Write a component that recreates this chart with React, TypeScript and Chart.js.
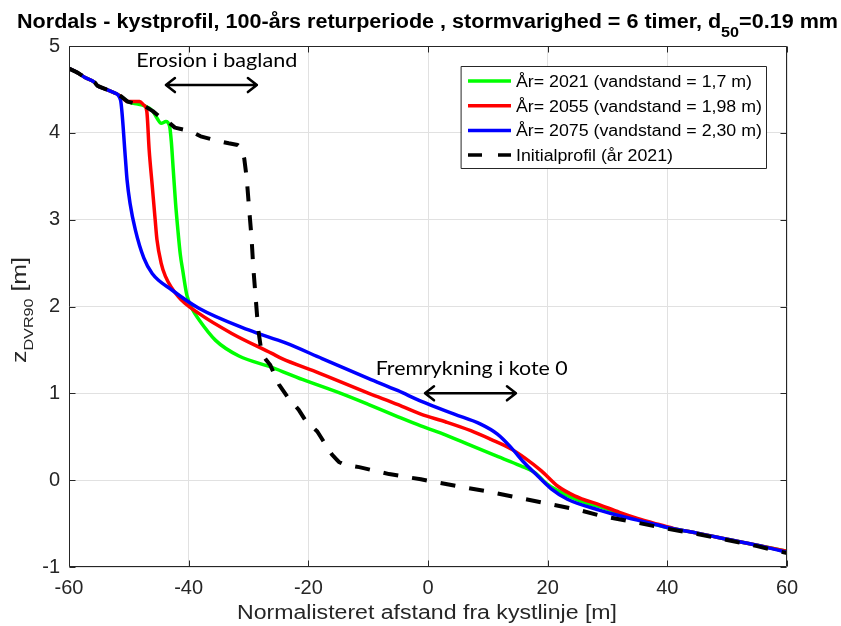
import React, { useEffect, useRef } from "react";
import { Chart, registerables } from "chart.js";

Chart.register(...registerables);

// ---------- data ----------
const xTickValues = [-60, -40, -20, 0, 20, 40, 60];
const yTickValues = [-1, 0, 1, 2, 3, 4, 5];

const seriesLabels = [
  "År= 2021 (vandstand = 1,7 m)",
  "År= 2055 (vandstand = 1,98 m)",
  "År= 2075 (vandstand = 2,30 m)",
  "Initialprofil (år 2021)",
];
const seriesColors = ["#00ff00", "#ff0000", "#0000ff", "#000000"];

const initX = [-60, -58.5, -57.4, -55.7, -55.2, -54.1, -52.4, -51.3, -50.2, -48.5, -47.4, -46.0, -44.6, -43.3, -42.3, -39.7, -38.0, -35.3, -33.3, -31.8, -31.1, -30.7, -30.3, -29.9, -29.5, -29.2, -28.8, -28.4, -27.8, -27.0, -26.4, -24.9, -23.5, -21.6, -20.5, -18.5, -17.4, -16.0, -15.3, -14.9, -14.0, -11.5, -6.5, -1.2, 5, 10, 15, 20, 25, 28.9, 35, 40, 45, 50, 55, 60];
const initY = [4.74, 4.69, 4.64, 4.58, 4.54, 4.51, 4.46, 4.42, 4.36, 4.33, 4.31, 4.25, 4.17, 4.12, 4.06, 4.02, 3.96, 3.91, 3.88, 3.86, 3.82, 3.70, 3.48, 3.13, 2.80, 2.45, 2.10, 1.75, 1.46, 1.38, 1.33, 1.10, 0.96, 0.81, 0.69, 0.56, 0.44, 0.29, 0.24, 0.21, 0.18, 0.15, 0.07, 0.01, -0.07, -0.13, -0.20, -0.27, -0.34, -0.41, -0.49, -0.56, -0.62, -0.69, -0.76, -0.84];

const y2021X = [-60, -58.5, -57.4, -55.7, -55.2, -54.1, -52.4, -51.3, -50.2, -48.5, -47.4, -46.0, -45.3, -44.6, -43.8, -43.2, -42.9, -42.6, -42.2, -41.8, -41.4, -41.0, -40.3, -39.4, -38.3, -35.5, -31.6, -26.1, -21.0, -15.0, -9.9, -5.0, -1.2, 3.0, 7.15, 11.0, 15.5, 17.8, 20.0, 22.8, 25.5, 28.9, 32.0, 35.0, 38.0, 41.0, 45.0, 50.0, 55.0, 60.0];
const y2021Y = [4.74, 4.69, 4.64, 4.58, 4.54, 4.51, 4.46, 4.42, 4.36, 4.33, 4.31, 4.25, 4.17, 4.11, 4.13, 4.08, 3.9, 3.6, 3.2, 2.88, 2.6, 2.42, 2.13, 1.97, 1.85, 1.61, 1.43, 1.30, 1.16, 1.01, 0.87, 0.73, 0.625, 0.52, 0.40, 0.29, 0.165, 0.09, -0.05, -0.16, -0.24, -0.31, -0.38, -0.45, -0.51, -0.56, -0.61, -0.68, -0.75, -0.82];

const y2055X = [-60, -58.5, -57.4, -55.7, -55.2, -54.1, -52.4, -51.3, -50.2, -49.0, -48.2, -47.5, -47.0, -46.6, -46.1, -45.6, -45.3, -44.6, -43.9, -41.7, -38.3, -32.8, -26.1, -24.4, -18.8, -9.9, -5.0, -1.2, 3.0, 7.15, 10.5, 13.9, 16.1, 18.9, 21.7, 24.5, 28.9, 32.0, 35.0, 38.0, 41.0, 45.0, 50.0, 55.0, 60.0];
const y2055Y = [4.74, 4.69, 4.64, 4.58, 4.54, 4.51, 4.46, 4.42, 4.36, 4.36, 4.36, 4.32, 4.25, 3.8, 3.4, 3.0, 2.77, 2.5, 2.35, 2.11, 1.92, 1.69, 1.46, 1.40, 1.25, 1.0, 0.87, 0.76, 0.67, 0.57, 0.47, 0.36, 0.26, 0.11, -0.07, -0.18, -0.29, -0.37, -0.44, -0.50, -0.555, -0.61, -0.68, -0.75, -0.82];

const y2075X = [-60, -58.5, -57.4, -55.7, -55.2, -54.1, -52.4, -51.4, -50.6, -50.3, -49.8, -48.9, -47.5, -46.1, -42.8, -38.3, -30.0, -23.8, -17.7, -9.9, -5.0, -1.2, 4.4, 8.8, 11.6, 13.9, 16.1, 18.3, 20.6, 23.3, 28.9, 32.0, 35.0, 38.0, 41.0, 45.0, 50.0, 55.0, 60.0];
const y2075Y = [4.74, 4.69, 4.64, 4.58, 4.54, 4.51, 4.46, 4.38, 3.73, 3.46, 3.19, 2.88, 2.56, 2.38, 2.19, 1.98, 1.73, 1.58, 1.40, 1.17, 1.03, 0.91, 0.76, 0.645, 0.53, 0.375, 0.20, 0.05, -0.10, -0.22, -0.35, -0.41, -0.46, -0.51, -0.56, -0.61, -0.68, -0.75, -0.83];

const noteTexts = ["Erosion i bagland", "Fremrykning i kote 0"];
const noteTextX = [-35.3, 7.3];
const noteTextY = [4.84, 1.29];
const arrowStartX = [-43.8, -0.5];
const arrowEndX = [-28.6, 14.7];
const arrowY = [4.55, 1.0];

const titleMain = "Nordals - kystprofil, 100-års returperiode , stormvarighed = 6 timer, d";
const titleSub = "50";
const titleTail = "=0.19 mm";
const xAxisTitle = "Normalisteret afstand fra kystlinje [m]";
const yAxisMain = "z";
const yAxisSub = "DVR90";
const yAxisTail = " [m]";

const toPoints = (xs: number[], ys: number[]) => xs.map((x, i) => ({ x, y: ys[i] }));

const AXIS_COLOR = "#262626";
const FONT = "'Liberation Sans', Arial, Helvetica, sans-serif";
const NOTE_FONT = "Lato, 'Open Sans', sans-serif";
const INIT_DASH = [15, 14];

// draw a run of [text, font, dy] parts, stretched along the baseline to a target length
function drawRun(ctx: CanvasRenderingContext2D, parts: [string, string, number][], cx: number, by: number, target: number) {
  let total = 0;
  const ws = parts.map(([t, f]) => {
    ctx.font = f;
    const w = ctx.measureText(t).width;
    total += w;
    return w;
  });
  const s = target / total;
  ctx.save();
  ctx.translate(cx - target / 2, by);
  ctx.scale(s, 1);
  ctx.textAlign = "left";
  ctx.textBaseline = "alphabetic";
  let x = 0;
  parts.forEach(([t, f, dy], i) => {
    ctx.font = f;
    ctx.fillText(t, x, dy);
    x += ws[i];
  });
  ctx.restore();
}

const decorPlugin = {
  id: "decor",
  afterDraw(chart: any) {
    const ctx: CanvasRenderingContext2D = chart.ctx;
    const { left, right, top, bottom } = chart.chartArea;
    const xs = chart.scales.x;
    const ys = chart.scales.y;
    ctx.save();

    // axes box
    const L = Math.round(left) + 0.5;
    const R = Math.round(right) - 0.5;
    const T = Math.round(top) + 0.5;
    const B = Math.round(bottom) - 0.5;
    ctx.strokeStyle = AXIS_COLOR;
    ctx.lineWidth = 1;
    ctx.setLineDash([]);
    ctx.beginPath();
    ctx.rect(L, T, R - L, B - T);
    const tl = 6;
    xTickValues.forEach((v) => {
      const px = Math.round(xs.getPixelForValue(v)) + 0.5;
      ctx.moveTo(px, B);
      ctx.lineTo(px, B - tl);
      ctx.moveTo(px, T);
      ctx.lineTo(px, T + tl);
    });
    yTickValues.forEach((v) => {
      const py = Math.round(ys.getPixelForValue(v)) + 0.5;
      ctx.moveTo(L, py);
      ctx.lineTo(L + tl, py);
      ctx.moveTo(R, py);
      ctx.lineTo(R - tl, py);
    });
    ctx.stroke();

    // annotations
    ctx.fillStyle = "#000";
    ctx.strokeStyle = "#000";
    const noteW = [161, 192];
    noteTexts.forEach((t, i) => {
      drawRun(ctx, [[t, `20px ${NOTE_FONT}`, 0]], xs.getPixelForValue(noteTextX[i]), ys.getPixelForValue(noteTextY[i]) + 7, noteW[i]);
    });
    ctx.lineWidth = 2.5;
    ctx.lineCap = "round";
    ctx.lineJoin = "round";
    arrowStartX.forEach((x1, i) => {
      const a = xs.getPixelForValue(x1);
      const b = xs.getPixelForValue(arrowEndX[i]);
      const y = ys.getPixelForValue(arrowY[i]);
      ctx.beginPath();
      ctx.moveTo(a, y);
      ctx.lineTo(b, y);
      ctx.moveTo(a + 9, y - 7);
      ctx.lineTo(a, y);
      ctx.lineTo(a + 9, y + 7);
      ctx.moveTo(b - 9, y - 7);
      ctx.lineTo(b, y);
      ctx.lineTo(b - 9, y + 7);
      ctx.stroke();
    });

    // legend
    const lx = 461.5, ly = 66.5, lw = 305, lh = 102;
    ctx.fillStyle = "#fff";
    ctx.fillRect(lx, ly, lw, lh);
    ctx.strokeStyle = AXIS_COLOR;
    ctx.lineWidth = 1;
    ctx.strokeRect(lx, ly, lw, lh);
    const legFont = `16px ${FONT}`;
    ctx.font = legFont;
    const legScale = 236 / ctx.measureText(seriesLabels[0]).width;
    seriesLabels.forEach((lab, i) => {
      const cy = 81 + i * 24.7;
      ctx.strokeStyle = seriesColors[i];
      ctx.lineWidth = 3.5;
      ctx.lineCap = "butt";
      ctx.setLineDash(i === 3 ? [14, 16] : []);
      ctx.beginPath();
      ctx.moveTo(468, cy);
      ctx.lineTo(511, cy);
      ctx.stroke();
      ctx.setLineDash([]);
      ctx.fillStyle = "#000";
      ctx.save();
      ctx.translate(516, cy + 6);
      ctx.scale(legScale, 1);
      ctx.font = legFont;
      ctx.textAlign = "left";
      ctx.textBaseline = "alphabetic";
      ctx.fillText(lab, 0, 0);
      ctx.restore();
    });

    // title
    ctx.fillStyle = "#000";
    drawRun(
      ctx,
      [
        [titleMain, `bold 20px ${FONT}`, 0],
        [titleSub, `bold 15px ${FONT}`, 9],
        [titleTail, `bold 20px ${FONT}`, 0],
      ],
      427.5,
      28,
      821
    );

    // x axis title
    ctx.fillStyle = AXIS_COLOR;
    drawRun(ctx, [[xAxisTitle, `20px ${FONT}`, 0]], 427, 619, 380);

    // y axis title
    ctx.save();
    ctx.translate(26, 310);
    ctx.rotate(-Math.PI / 2);
    drawRun(
      ctx,
      [
        [yAxisMain, `20px ${FONT}`, 0],
        [yAxisSub, `13px ${FONT}`, 7],
        [yAxisTail, `20px ${FONT}`, 0],
      ],
      0,
      0,
      106
    );
    ctx.restore();

    ctx.restore();
  },
};

export default function App() {
  const ref = useRef<HTMLCanvasElement | null>(null);
  useEffect(() => {
    if (!ref.current) return;
    const ds = [
      { xs: y2021X, ys: y2021Y, order: 3 },
      { xs: y2055X, ys: y2055Y, order: 2 },
      { xs: y2075X, ys: y2075Y, order: 1 },
      { xs: initX, ys: initY, order: 0 },
    ];
    const chart = new Chart(ref.current, {
      type: "scatter",
      data: {
        datasets: ds.map((d, i) => {
          const dashed = i === 3;
          const base: any = {
            label: seriesLabels[i],
            data: toPoints(d.xs, d.ys),
            showLine: true,
            fill: false,
            borderColor: seriesColors[i],
            backgroundColor: seriesColors[i],
            borderWidth: dashed ? 4 : 3.5,
            borderDash: dashed ? INIT_DASH : [],
            borderDashOffset: 0,
            borderCapStyle: "butt",
            borderJoinStyle: dashed ? "bevel" : "round",
            pointRadius: 0,
            pointHoverRadius: 0,
            order: d.order,
          };
          if (dashed) {
            base.tension = 0;
            base.segment = { borderDash: () => INIT_DASH };
          } else {
            base.cubicInterpolationMode = "monotone";
          }
          return base;
        }),
      },
      plugins: [decorPlugin],
      options: {
        animation: false,
        responsive: false,
        devicePixelRatio: 1,
        events: [],
        layout: { padding: { top: 46, right: 54, left: 0, bottom: 0 } },
        plugins: {
          legend: { display: false },
          title: { display: false },
          tooltip: { enabled: false },
        },
        scales: {
          x: {
            type: "linear",
            min: -60,
            max: 60,
            afterFit: (s: any) => {
              s.height = 59;
            },
            afterBuildTicks: (s: any) => {
              s.ticks = xTickValues.map((v) => ({ value: v }));
            },
            ticks: {
              color: AXIS_COLOR,
              font: { family: FONT, size: 20 },
              padding: 9,
              maxRotation: 0,
              autoSkip: false,
            },
            grid: { color: "#e1e1e1", lineWidth: 1, drawTicks: false },
            border: { display: false },
          },
          y: {
            type: "linear",
            min: -1,
            max: 5,
            afterFit: (s: any) => {
              s.width = 69;
            },
            afterBuildTicks: (s: any) => {
              s.ticks = yTickValues.map((v) => ({ value: v }));
            },
            ticks: {
              color: AXIS_COLOR,
              font: { family: FONT, size: 20 },
              padding: 9,
              autoSkip: false,
            },
            grid: { color: "#e1e1e1", lineWidth: 1, drawTicks: false },
            border: { display: false },
          },
        },
      } as any,
    });
    return () => chart.destroy();
  }, []);
  return (
    <div style={{ position: "absolute", left: 0, top: 0, width: 841, height: 626, background: "#fff" }}>
      <canvas ref={ref} width={841} height={626} style={{ display: "block" }} />
    </div>
  );
}
